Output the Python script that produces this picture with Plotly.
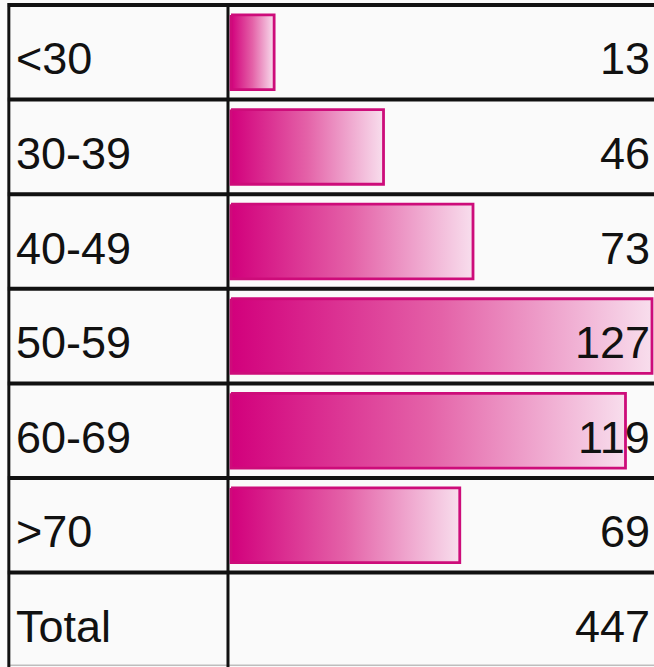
import plotly.graph_objects as go

# ---- data ----
categories = ["<30", "30-39", "40-49", "50-59", "60-69", ">70"]
counts = [13, 46, 73, 127, 119, 69]
total_label = "Total"
total_value = 447

row_labels = categories + [total_label]
row_values = counts + [total_value]

W, H = 654, 667
FONT = "Liberation Sans Narrow, Arial Narrow, Liberation Sans, Arial, sans-serif"
BAR_LINE = "rgb(205,12,122)"
GRAD = [[0.0, "rgb(210,0,124)"], [0.5, "rgb(228,98,168)"], [1.0, "rgb(248,222,237)"]]

fig = go.Figure()
half = 0.395
for i, v in enumerate(counts):
    fig.add_trace(go.Scatter(
        x=[0, v, v, 0, 0],
        y=[i - half, i - half, i + half, i + half, i - half],
        mode="lines", fill="toself",
        line=dict(color=BAR_LINE, width=2.8),
        fillgradient=dict(type="horizontal", colorscale=GRAD),
        hoverinfo="skip", showlegend=False,
    ))

annotations = []
for i, (lab, val) in enumerate(zip(row_labels, row_values)):
    annotations.append(dict(x=0.022, xref="paper", y=i + 0.07, yref="y", text=lab,
                            showarrow=False, xanchor="left", yanchor="middle",
                            font=dict(family=FONT, size=45, color="#111111")))
    annotations.append(dict(x=0.997, xref="paper", y=i + 0.07, yref="y", text=str(val),
                            showarrow=False, xanchor="right", yanchor="middle",
                            font=dict(family=FONT, size=45, color="#111111")))

shapes = []
nrows = len(row_labels)
for k in range(nrows):
    shapes.append(dict(type="line", xref="paper", yref="y", x0=0.012, x1=1.0,
                       y0=k - 0.5, y1=k - 0.5, line=dict(color="#111111", width=4), layer="below"))
shapes.append(dict(type="line", xref="paper", yref="y", x0=0.012, x1=1.0,
                   y0=nrows - 0.52, y1=nrows - 0.52, line=dict(color="#bdbdbd", width=1.5), layer="below"))
shapes.append(dict(type="line", xref="paper", yref="y", x0=0.0135, x1=0.0135,
                   y0=-0.52, y1=nrows - 0.5, line=dict(color="#111111", width=3), layer="below"))
shapes.append(dict(type="line", xref="paper", yref="y", x0=0.3486, x1=0.3486,
                   y0=-0.52, y1=nrows - 0.5, line=dict(color="#111111", width=3), layer="below"))

fig.update_layout(
    width=W, height=H,
    margin=dict(l=0, r=0, t=0, b=0),
    paper_bgcolor="#fafafa", plot_bgcolor="#fafafa",
    xaxis=dict(range=[-69.7, 127.6], visible=False, fixedrange=True),
    yaxis=dict(range=[6.498, -0.553], visible=False, fixedrange=True),
    annotations=annotations, shapes=shapes,
    showlegend=False,
)

fig.write_html("out.html", config={"displayModeBar": False},
               post_script="document.body.style.margin='0';document.body.style.overflow='hidden';")
